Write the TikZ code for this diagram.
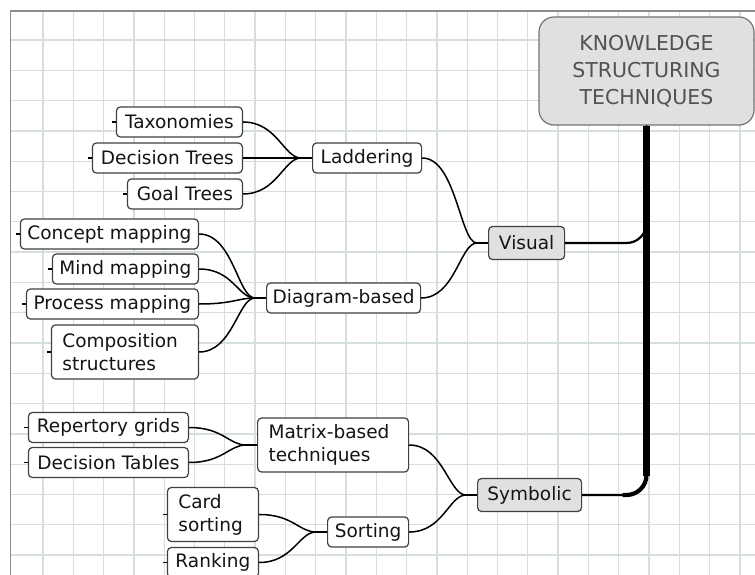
\documentclass[tikz,border=0pt]{standalone}
\usepackage{fontspec}
\setmainfont{DejaVu Sans}
\usepackage{xcolor}
\definecolor{gridcol}{HTML}{D6DEDE}
\definecolor{framecol}{HTML}{8C8C8C}
\definecolor{boxgray}{HTML}{E0E0E0}
\tikzstyle{leaf} = [rectangle, rounded corners=4pt, draw=black!75, line width=1.2pt, fill=white,
minimum height=30pt, inner xsep=5pt, inner ysep=3pt, text=black!92, font=\fontsize{18.5}{23}\selectfont]
\tikzstyle{graybox} = [leaf, fill=boxgray, minimum height=33pt]
\tikzstyle{twoline} = [align=left, inner xsep=11pt, minimum height=54pt]
\tikzstyle{rootbox} = [rectangle, rounded corners=15pt, draw=black!55, line width=1.2pt, fill=boxgray,
minimum width=215pt, minimum height=108pt, align=center, text=black!68, font=\fontsize{20.5}{27}\selectfont]
\tikzstyle{curvy} = [line width=1.5pt, to path={.. controls +(34,0) and +(-17,0) .. (\tikztotarget)}]
\tikzstyle{stub} = [line width=1.5pt]
\tikzstyle{trunk} = [line width=7pt]
\tikzstyle{branch} = [line width=2.2pt, rounded corners=20pt]
\tikzstyle{gridline} = [draw=gridcol, line width=1.3pt]

\begin{document}
\begin{tikzpicture}[x=1pt, y=-1pt]
        \fill[white] (0,0) rectangle (755,575);
        \useasboundingbox (0,0) rectangle (755,575);

        % background grid
        \foreach \i in {1,...,24} \draw[gridline] ({12.7+30.3*\i},11) -- ({12.7+30.3*\i},575);
        \foreach \j in {1,...,18} \draw[gridline] (11,{9.7+30.3*\j}) -- (755,{9.7+30.3*\j});
        \draw[framecol, line width=1.2pt] (10.5,575) -- (10.5,11) -- (755,11);

        \node[rootbox] (root) at (646.5,71) {KNOWLEDGE\\STRUCTURING\\TECHNIQUES};

        \node[graybox, anchor=west, minimum width=76pt] (vis) at (488,243) {Visual};
        \node[graybox, anchor=west, minimum width=104pt] (sym) at (477,495) {Symbolic};

        \node[leaf, anchor=west, minimum width=109pt] (lad) at (312,158) {Laddering};
        \node[leaf, anchor=west, minimum width=154pt] (dia) at (266,298) {Diagram-based};
        \node[leaf, twoline, anchor=west, text width=129pt] (mat) at (257,445) {Matrix-based\\techniques};
        \node[leaf, anchor=west, minimum width=81pt] (sor) at (327,532) {Sorting};

        \node[leaf, anchor=east, minimum width=126pt] (tax) at (243,122) {Taxonomies};
        \node[leaf, anchor=east, minimum width=150pt] (dtr) at (243,158) {Decision Trees};
        \node[leaf, anchor=east, minimum width=115pt] (goal) at (243,194) {Goal Trees};

        \node[leaf, anchor=east, minimum width=178pt] (con) at (199,234) {Concept mapping};
        \node[leaf, anchor=east, minimum width=146pt] (mind) at (199,269) {Mind mapping};
        \node[leaf, anchor=east, minimum width=172pt] (proc) at (199,304) {Process mapping};
        \node[leaf, twoline, anchor=east, text width=125pt] (comp) at (199,352) {Composition\\structures};

        \node[leaf, anchor=east, minimum width=160pt] (rep) at (189,427.5) {Repertory grids};
        \node[leaf, anchor=east, minimum width=160pt] (dtab) at (189,462.5) {Decision Tables};

        \node[leaf, twoline, anchor=east, text width=69pt] (card) at (259,514.5) {Card\\sorting};
        \node[leaf, anchor=east, minimum width=91pt] (rank) at (259,562.5) {Ranking};

        % trunk and main branches
        \coordinate (corner) at (sym.east -| root.south);
        \draw[trunk] (root.south) -- ++(0,350);
        \draw[branch] (vis.east) -| (root.south);
        \draw[branch] (sym.east) -| (root.south);
        \draw[line width=4.2pt, rounded corners=20pt] ([xshift=-24pt]corner) -- (corner) -- ([yshift=30pt]corner);

        % small stubs on the left side
        \foreach \n in {tax,dtr,goal,con,mind,proc,comp,rep,dtab,card,rank}
            \draw[stub] (\n.west) -- ++(-4,0);
        \draw[stub] (vis.west) -- ++(-11,0) coordinate (visin);
        \draw[stub] (sym.west) -- ++(-11,0) coordinate (symin);
        \draw[stub] (lad.west) -- ++(-11,0) coordinate (ladin);
        \draw[stub] (dia.west) -- ++(-11,0) coordinate (diain);
        \draw[stub] (mat.west) -- ++(-11,0) coordinate (matin);
        \draw[stub] (sor.west) -- ++(-11,0) coordinate (sorin);

        \draw[curvy] (lad.east) to (visin);
        \draw[curvy] (dia.east) to (visin);
        \draw[curvy] (mat.east) to (symin);
        \draw[curvy] (sor.east) to (symin);

        \draw[curvy] (tax.east) to (ladin);
        \draw[curvy] (dtr.east) to (ladin);
        \draw[curvy] (goal.east) to (ladin);

        \draw[curvy] (con.east) to (diain);
        \draw[curvy] (mind.east) to (diain);
        \draw[curvy] (proc.east) to (diain);
        \draw[curvy] (comp.east) to (diain);

        \draw[curvy] (rep.east) to (matin);
        \draw[curvy] (dtab.east) to (matin);
        \draw[curvy] (card.east) to (sorin);
        \draw[curvy] (rank.east) to (sorin);
\end{tikzpicture}
\end{document}
